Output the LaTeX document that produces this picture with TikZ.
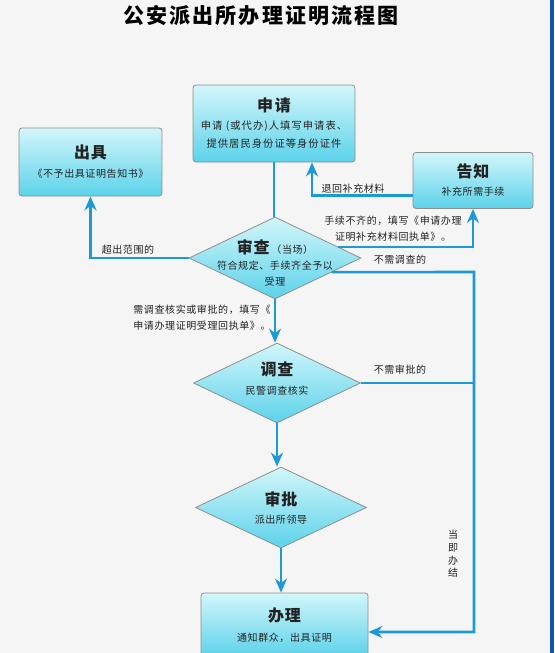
\documentclass[tikz,border=0pt]{standalone}
\usepackage{fontspec}
\newfontfamily\cjk[LetterSpace=6]{Noto Sans CJK SC}
\newfontfamily\cjkwide[LetterSpace=10]{Noto Sans CJK SC}
\usetikzlibrary{positioning,shapes.geometric,arrows.meta,calc}
\definecolor{flowblue}{HTML}{1B9AD7}
\definecolor{boxtop}{HTML}{D2F6FA}
\definecolor{boxbot}{HTML}{5CD2EA}
\definecolor{boxline}{HTML}{8E8E8E}
\definecolor{txt}{HTML}{222222}
\definecolor{bgpaper}{HTML}{F5F5F5}
\definecolor{edgeblue}{HTML}{1552B5}
\newcommand\boxtitle[1]{{\fontsize{16}{18}\selectfont\bfseries #1}}

\begin{document}
\begin{tikzpicture}[x=1pt,y=-1pt,
    box/.style={draw=boxline, line width=0.8pt, rounded corners=3pt,
        top color=boxtop, bottom color=boxbot, text=txt, align=center,
        inner sep=0pt, font=\cjk\fontsize{10}{18}\selectfont},
    decision/.style={diamond, draw=boxline, line width=0.8pt,
        top color=boxtop, bottom color=boxbot, inner sep=0pt},
    note/.style={text=txt, align=center, inner sep=1pt,
        font=\cjk\fontsize{10}{16}\selectfont},
    flow/.style={draw=flowblue, line width=2.6pt},
    arr/.style={flow, -{Stealth[length=14pt,width=12pt,inset=4.5pt]}}]
    \useasboundingbox (0,0) rectangle (554,653);
    \fill[bgpaper] (0,0) rectangle (554,653);
    \fill[edgeblue] (550,0) rectangle (554,653);
    \clip (0,0) rectangle (554,653);
    \node[text=black, font=\cjkwide\fontsize{21}{24}\selectfont\bfseries] (TITLE) at (261,16) {公安派出所办理证明流程图};
    %%%%% THE BOXES
    \node[box, minimum width=162pt, minimum height=77pt, font=\cjkwide\fontsize{10.3}{18}\selectfont] (APPLY) at (274,123.5)
      {\boxtitle{申请}\\ 申请 (或代办)人填写申请表、\\ 提供居民身份证等身份证件};
    \node[box, minimum width=143pt, minimum height=68pt, font=\cjk\fontsize{10}{19}\selectfont] (ISSUE) at (90.5,162)
      {\boxtitle{出具}\\ 《不予出具证明告知书》};
    \node[box, minimum width=120pt, minimum height=56pt] (NOTIFY) at (473,180.5)
      {\boxtitle{告知}\\ 补充所需手续};
    \node[box, minimum width=167pt, minimum height=64pt, font=\cjk\fontsize{10}{20}\selectfont] (HANDLE) at (284.5,625)
      {\boxtitle{办理}\\ 通知群众，出具证明};
    %%%%% THE DECISIONS
    \node[decision, minimum width=172pt, minimum height=82pt] (REVIEW) at (275,258) {};
    \node[note] (REVIEW-T) at (275,263) {\boxtitle{审查}\,（当场）\\ 符合规定、手续齐全予以\\ 受理};
    \node[decision, minimum width=167pt, minimum height=80pt] (CHECK) at (277,383) {};
    \node[note, font=\cjk\fontsize{10}{19}\selectfont] (CHECK-T) at (277,379) {\boxtitle{调查}\\ 民警调查核实};
    \node[decision, minimum width=171pt, minimum height=81pt] (APPROVE) at (281,507.5) {};
    \node[note, font=\cjk\fontsize{10}{18}\selectfont] (APPROVE-T) at (281,508) {\boxtitle{审批}\\ 派出所领导};
    %%%%% THE LINKS
    \coordinate (RTOP) at (474,272);
    \coordinate (RBOT) at (474,632);
    \draw[flow] (APPLY.south) -- (APPLY.south |- REVIEW.north);
    \draw[arr] (REVIEW.west) -| (ISSUE.south);
    \draw[arr] (REVIEW.10) -| (NOTIFY.south);
    \draw[arr] ([yshift=-15pt]NOTIFY.west) -| ([xshift=38pt]APPLY.south);
    \draw[arr] (REVIEW.south) -- (REVIEW.south |- CHECK.north);
    \draw[arr] (CHECK.south) -- (CHECK.south |- APPROVE.north);
    \draw[arr] (APPROVE.south) -- (APPROVE.south |- HANDLE.north);
    \draw[arr] (REVIEW.-14) -- (RTOP) -- (RBOT) -- (RBOT -| HANDLE.east);
    \draw[flow] (CHECK.east) -- (CHECK.east -| RTOP);
    %%%%% LABELS ON THE LINKS
    \node[note] (L-OUT) at (128,250) {超出范围的};
    \node[note] (L-BACK) at (353,189) {退回补充材料};
    \node[note] (L-LACK) at (393,229) {手续不齐的，填写《申请办理\\ 证明补充材料回执单》。};
    \node[note] (L-NOCHECK) at (400,260) {不需调查的};
    \node[note] (L-NEED) at (202,318) {需调查核实或审批的，填写《\\ 申请办理证明受理回执单》。};
    \node[note] (L-NOAPPROVE) at (400,370) {不需审批的};
    \node[note, font=\cjk\fontsize{10}{12.7}\selectfont] (L-NOW) at (453,554) {当\\即\\办\\结};
\end{tikzpicture}
\end{document}
